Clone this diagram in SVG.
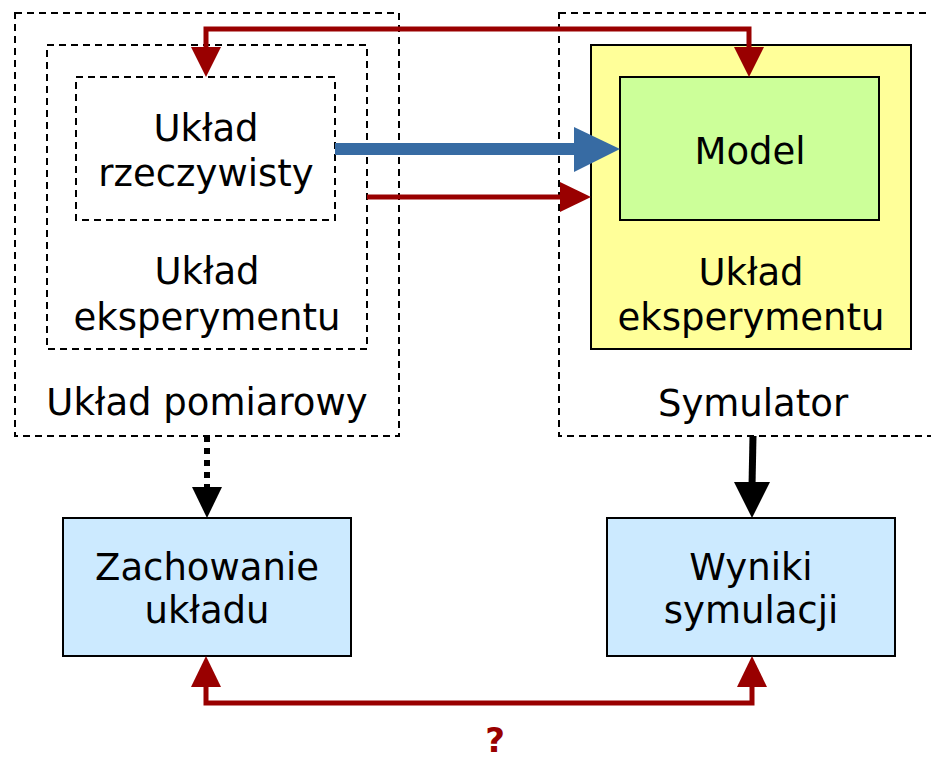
<svg xmlns="http://www.w3.org/2000/svg" width="931" height="761" viewBox="0 0 931 761">
<style>
text{font-family:"DejaVu Sans","Verdana",sans-serif;font-size:37px;fill:#000;text-anchor:middle}
.dash{fill:none;stroke:#000;stroke-width:2;stroke-dasharray:7,5}
.box{stroke:#000;stroke-width:2}
.red{fill:none;stroke:#990000;stroke-width:5}
.redhead{fill:#990000}
</style>
<rect width="931" height="761" fill="#fff"/>
<g id="uklad-pomiarowy">
<rect class="dash" x="15" y="13" width="384" height="423"/>
<text x="207" y="415">Układ pomiarowy</text>
</g>
<g id="uklad-eksperymentu-left">
<rect class="dash" x="47" y="45" width="320" height="304"/>
<text x="207" y="284">Układ</text>
<text x="207" y="330">eksperymentu</text>
</g>
<g id="uklad-rzeczywisty">
<rect class="dash" x="76" y="77" width="259" height="143"/>
<text x="206" y="141">Układ</text>
<text x="206" y="186">rzeczywisty</text>
</g>
<g id="symulator">
<rect class="dash" x="559" y="13" width="390" height="423"/>
<text x="753" y="416">Symulator</text>
</g>
<g id="uklad-eksperymentu-right">
<rect class="box" x="591" y="45" width="320" height="304" fill="#ffff99"/>
<text x="751" y="285">Układ</text>
<text x="751" y="330">eksperymentu</text>
</g>
<g id="model">
<rect class="box" x="620" y="77" width="259" height="143" fill="#ccff99"/>
<text x="750" y="164">Model</text>
</g>
<g id="zachowanie">
<rect class="box" x="63" y="518" width="288" height="138" fill="#cceaff"/>
<text x="207" y="580">Zachowanie</text>
<text x="207" y="623">układu</text>
</g>
<g id="wyniki">
<rect class="box" x="607" y="518" width="288" height="138" fill="#cceaff"/>
<text x="751" y="580">Wyniki</text>
<text x="751" y="623">symulacji</text>
</g>
<g id="connectors">
<polyline class="red" points="206,49 206,29 749,29 749,49"/>
<polygon class="redhead" points="191,47 221,47 206,77"/>
<polygon class="redhead" points="734,47 764,47 749,77"/>
<line x1="335" y1="149" x2="576" y2="149" stroke="#376ba3" stroke-width="12"/>
<polygon points="574,127 620,149 574,172" fill="#376ba3"/>
<line class="red" x1="367" y1="197" x2="562" y2="197"/>
<polygon class="redhead" points="560,182 591,197 560,212"/>
<line x1="207" y1="436" x2="207" y2="488" stroke="#000" stroke-width="6" stroke-dasharray="6,6"/>
<polygon points="192,487 222,487 207,518" fill="#000"/>
<line x1="753" y1="436" x2="752" y2="486" stroke="#000" stroke-width="7"/>
<polygon points="734,482 770,482 752,518" fill="#000"/>
<polyline class="red" points="206,685 206,703 752,703 752,685"/>
<polygon class="redhead" points="191,687 221,687 206,656"/>
<polygon class="redhead" points="737,687 767,687 752,656"/>
</g>
<text x="495" y="752" style="font-weight:bold;font-size:34px;fill:#990000">?</text>
</svg>
